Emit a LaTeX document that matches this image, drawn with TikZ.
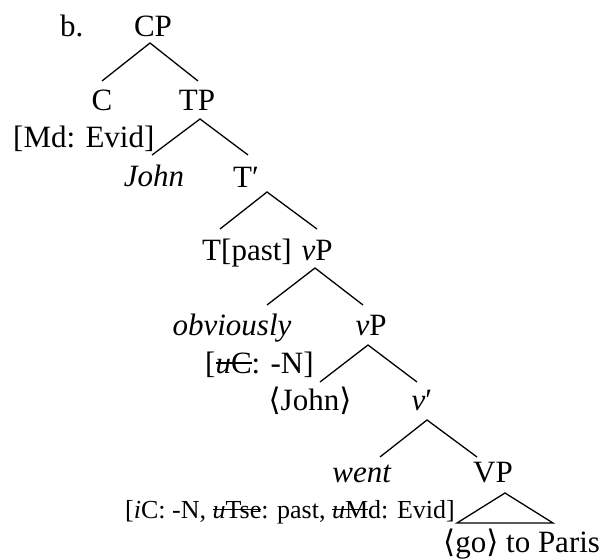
\documentclass[tikz,border=0pt]{standalone}
\usepackage{fontspec}
\setmainfont{Liberation Serif}
\newfontfamily\brfont{DejaVu Serif}
\newcommand\mystrike[1]{\setbox0\hbox{#1}\rlap{\rule[0.3em]{\wd0}{0.06em}}\box0}
\newcommand\bigsize{\fontsize{31}{36}\selectfont}
\newcommand\smallsize{\fontsize{26}{30}\selectfont}
\newcommand\lab{{\brfont ⟨}}
\newcommand\rab{{\brfont ⟩}}
\begin{document}
\begin{tikzpicture}[x=1pt,y=-1pt,
  lab/.style={anchor=base,inner sep=0pt,font=\bigsize},
  labw/.style={anchor=base west,inner sep=0pt,font=\bigsize},
  branch/.style={line width=1.3pt}]
\useasboundingbox (0,0) rectangle (603,559);
\node[labw] (b) at (60,37) {b.};
\node[lab] (CP) at (153,37) {CP};
\node[lab] (C) at (102,111) {C};
\node[lab] (TP) at (197,111) {TP};
\node[labw] (Md) at (13,148) {[Md: Evid]};
\node[lab] (John) at (154,187) {\textit{John}};
\node[lab] (Tbar) at (246,188) {T′};
\node[lab] (Tpast) at (247,261) {T[past]};
\node[lab] (vP1) at (317,261) {\textit{v}P};
\node[lab] (obv) at (232,335) {\textit{obviously}};
\node[lab] (vP2) at (371,335) {\textit{v}P};
\node[labw] (uC) at (205,373) {[\mystrike{\textit{u}C}: -N]};
\node[lab] (aJohn) at (310,410) {\lab John\rab};
\node[lab] (vbar) at (422,410) {\textit{v}′};
\node[lab] (went) at (362,482) {\textit{went}};
\node[lab] (VP) at (493,482) {VP};
\node[labw,font=\smallsize] (feat) at (125,518) {[\textit{i}C: -N, \mystrike{\textit{u}Tse}: past, \mystrike{\textit{u}M}d: Evid]};
\node[labw] (go) at (443,552) {\lab go\rab{} to Paris};
\draw[branch] ([shift={(-27,-32)}]Tpast.base) -- ([shift={(21,4)}]Tbar.base) -- ([shift={(0,-32)}]vP1.base);
\draw[branch] ([shift={(0,-30)}]C.base) -- ([shift={(-3,6)}]CP.base) -- ([shift={(1,-30)}]TP.base);
\draw[branch] ([shift={(-2,-32)}]John.base) -- ([shift={(3,8)}]TP.base) -- ([shift={(2,-33)}]Tbar.base);
\draw[branch] ([shift={(35,-30)}]obv.base) -- ([shift={(-2,7)}]vP1.base) -- ([shift={(-8,-30)}]vP2.base);
\draw[branch] ([shift={(10,-28)}]aJohn.base) -- ([shift={(-3,10)}]vP2.base) -- ([shift={(-5,-28)}]vbar.base);
\draw[branch] ([shift={(18,-25)}]went.base) -- ([shift={(5,10)}]vbar.base) -- ([shift={(-16,-25)}]VP.base);
\draw[branch,line join=miter] ([shift={(12,11)}]VP.base) -- ([shift={(14,-29)}]go.base west) -- ([shift={(110,-29)}]go.base west) -- cycle;
\end{tikzpicture}
\end{document}
